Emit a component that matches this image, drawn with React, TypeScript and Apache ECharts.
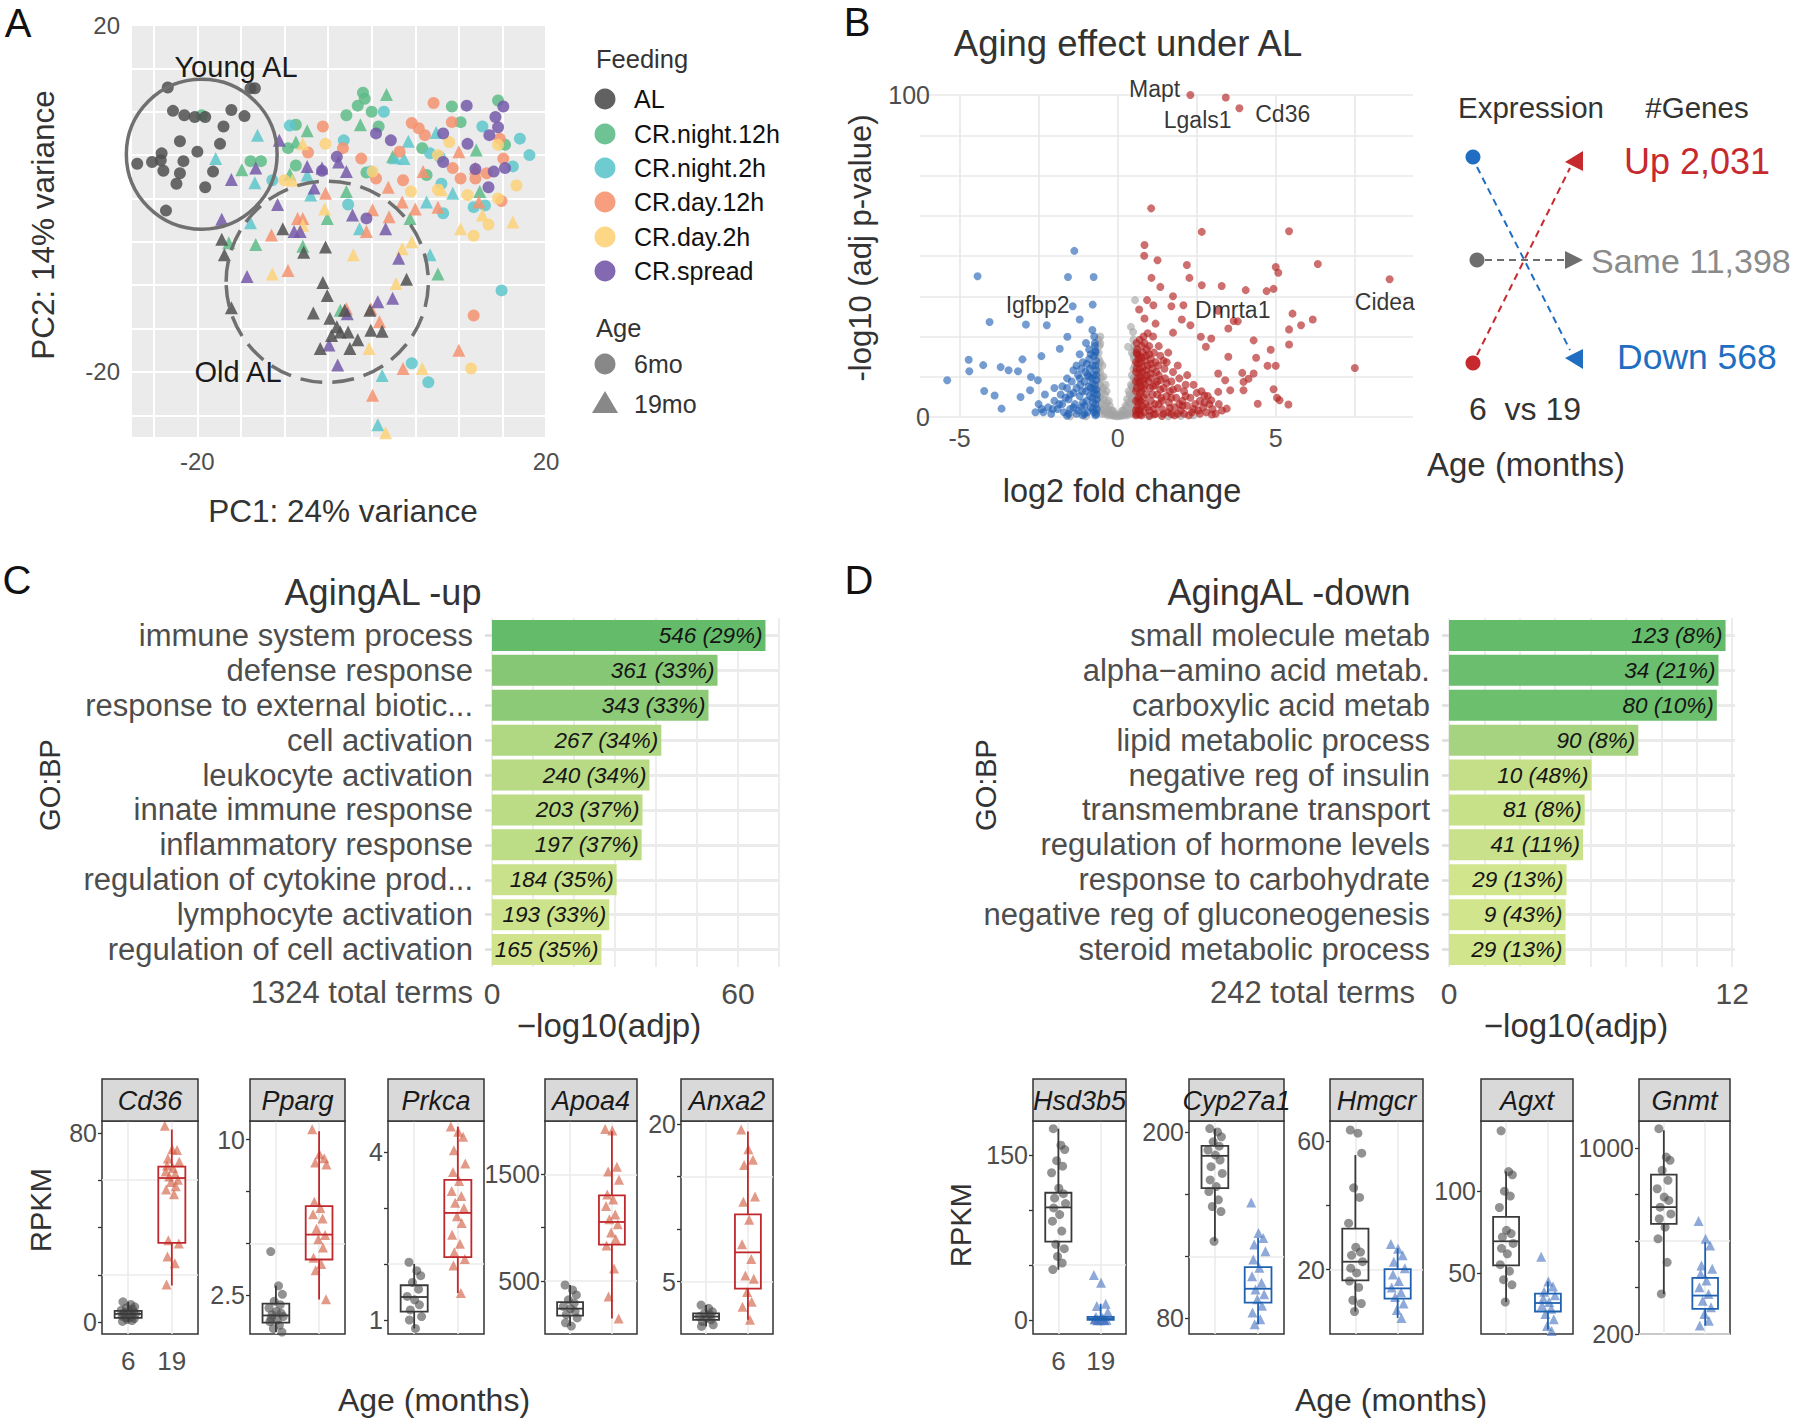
import React, { useEffect, useRef } from "react";
import * as echarts from "echarts";

const FONT = "'Liberation Sans', Arial, Helvetica, sans-serif";
const TXT = "#333333";
const AX = "#4D4D4D";
const CLEAR = "rgba(0,0,0,0)";

// ---------------- Panel A: PCA ----------------
const feedingGroups = ["AL", "CR.night.12h", "CR.night.2h", "CR.day.12h", "CR.day.2h", "CR.spread"];
const ageGroups = ["6mo", "19mo"];
const pcaAL6 = [[-23.4,12.8],[-13.9,12.7],[-13.4,12.7],[-22.8,10.1],[-21.5,9.6],[-20.3,9.4],[-19.1,9.4],[-16.1,10.2],[-14.6,9.5],[-17.0,8.3],[-22.0,6.6],[-17.4,6.3],[-20.0,5.4],[-24.1,5.2],[-26.9,4.0],[-25.2,4.2],[-24.2,4.4],[-21.6,4.3],[-23.9,3.2],[-22.0,2.9],[-18.2,3.1],[-22.4,1.7],[-19.1,1.3],[-23.6,-1.4]];
const pcaAL19 = [[-10.2,-3.5],[-17.2,-4.7],[-16.9,-6.5],[-7.8,-6.2],[-5.3,-5.6],[-16.1,-12.6],[-5.6,-9.7],[-5.1,-11.2],[-6.7,-13.2],[-4.8,-13.8],[-3.1,-12.9],[-4.0,-14.8],[-3.6,-15.4],[-2.7,-15.4],[-4.6,-15.8],[-1.6,-16.3],[-2.5,-17.3],[-5.9,-17.3],[-0.1,-15.2],[1.2,-15.3],[4.0,-9.3],[-0.2,-12.9]];
const pcaNight12h6 = [[-1.0,12.2],[-0.8,11.5],[-1.6,10.7],[-2.9,9.6],[0.0,10.0],[-8.7,8.5],[0.8,8.3],[9.2,10.6],[10.2,8.8],[14.5,11.3],[5.8,5.8],[-12.7,4.3],[-13.9,4.3],[-8.7,3.8],[-0.6,3.0],[6.3,2.7],[15.3,6.2],[-19.5,9.6],[-9.6,5.8]];
const pcaNight12h19 = [[1.7,12.0],[-1.3,8.5],[-7.4,7.8],[-8.7,6.5],[2.4,4.8],[-14.9,3.3],[-9.4,2.8],[-2.9,0.8],[-5.1,-2.3],[-13.3,-5.3],[-7.9,-5.5],[7.6,-8.7],[4.4,-2.3],[12.4,0.8],[-16.4,-5.1],[12.0,5.6],[-3.6,-12.9]];
const pcaNight2h6 = [[1.4,10.0],[-9.4,8.4],[-3.2,6.7],[-11.4,2.1],[6.7,5.2],[7.8,4.8],[12.7,8.3],[17.0,6.9],[18.1,5.0],[16.2,3.7],[8.0,1.7],[-2.7,-0.7],[8.2,-1.7],[11.7,-1.0],[13.0,-0.8],[14.9,-10.6],[4.6,-19.0],[6.5,-21.2],[-0.1,3.1]];
const pcaNight2h19 = [[-13.1,7.3],[-17.9,4.6],[-13.4,1.8],[4.2,6.6],[7.4,7.6],[-7.0,0.4],[2.7,4.7],[3.7,4.6],[-13.9,-2.8],[-1.4,-3.5],[6.7,-6.5],[1.2,-20.4],[0.7,-26.1],[9.3,0.6],[6.3,-0.4],[-7.4,2.7]];
const pcaDay12h6 = [[-5.6,8.3],[7.1,11.0],[4.6,8.7],[5.4,8.1],[6.1,7.3],[9.2,8.8],[-1.2,4.6],[3.2,5.4],[3.6,2.1],[14.7,6.9],[15.1,4.6],[10.2,2.3],[11.9,2.3],[14.9,-0.3],[11.7,-13.5],[0.5,2.3],[-3.3,5.8],[-7.3,5.3],[13.2,2.9],[9.3,3.5]];
const pcaDay12h19 = [[-7.9,-2.3],[-8.5,-2.3],[-11.5,-4.2],[-9.6,-8.3],[-0.6,-3.8],[-5.3,0.6],[0.1,-1.3],[1.9,1.3],[2.0,-2.1],[3.5,-0.4],[5.0,-1.2],[5.9,3.1],[7.6,-1.0],[12.3,-0.4],[10.0,-17.5],[3.6,-19.6],[0.1,-22.7],[-2.9,-12.7],[-0.1,-12.7],[0.9,-14.2],[10.0,5.4],[11.9,3.5]];
const pcaDay2h6 = [[-5.3,6.3],[0.1,3.1],[4.5,0.8],[7.6,1.0],[8.9,6.5],[11.0,0.4],[11.7,-4.3],[13.4,-3.0],[14.5,6.2],[16.6,1.5],[11.4,-19.6],[7.6,5.0],[-10.0,2.1],[14.5,0.0]];
const pcaDay2h19 = [[-7.9,6.3],[-9.1,2.1],[-5.4,-1.2],[-2.1,-6.5],[-11.4,-8.7],[3.5,-5.8],[4.6,-5.0],[2.8,-9.8],[-0.3,-17.3],[5.8,-19.6],[1.6,-27.0],[10.2,-3.5],[16.2,-2.7],[12.7,-1.9],[8.0,1.0],[-7.9,-3.1]];
const pcaSpread6 = [[10.9,10.7],[15.1,10.6],[14.2,9.4],[14.5,8.2],[13.5,7.3],[0.5,7.5],[2.2,6.7],[8.2,7.5],[8.2,4.2],[11.0,6.3],[11.9,3.4],[14.0,3.1],[15.3,3.5],[13.4,1.3],[-0.6,-2.3],[-5.7,3.2],[-4.0,4.8]];
const pcaSpread19 = [[-10.6,6.7],[-13.3,3.5],[-16.1,2.2],[-17.2,-2.4],[-10.8,-0.7],[-2.2,-1.9],[-3.8,4.2],[-5.7,3.5],[-2.9,3.1],[-6.6,1.2],[-8.9,-3.8],[-8.2,-3.8],[-14.3,-9.0],[1.6,-3.5],[3.1,-6.9],[2.4,-11.5],[0.7,-11.9],[-2.8,-13.3],[-4.9,-16.9],[-3.9,-19.2],[-7.4,3.7]];
// ellipse annotations: centre x, centre y, radius, dashed
const pcaEllipses = [[-19.5, 5.1, 8.65, 0], [-5.1, -9.6, 11.6, 1]];
const pcaEllipseLabels = ["Young AL", "Old AL"];

// ---------------- Panel B: volcano ----------------
const volcanoUp = [[2.3,100],[3.42,99.2],[3.85,95.9],[1.06,64.8],[2.66,57.5],[5.42,57.7],[0.85,53.4],[0.84,50.1],[1.26,48.7],[2.19,47.2],[6.33,47.5],[5.0,46.6],[5.08,44.8],[1.07,43.2],[2.27,43.2],[1.35,40.4],[2.66,40.9],[3.29,40.7],[4.05,39.4],[4.71,39.1],[4.93,39.8],[8.6,42.8],[7.5,15.2],[5.53,32.1],[6.17,30.3],[5.8,28.5],[5.42,27.2],[4.3,23.8],[5.42,22.5],[4.84,20.9],[4.38,18.4],[4.74,15.9],[5.0,15.9],[3.94,13.7],[4.14,11.9],[4.3,13.5],[3.98,10.9],[3.98,8.3],[4.93,8.6],[5.04,6.0],[4.43,4.1],[5.4,3.9],[5.12,5.2],[3.45,2.6],[3.67,29.8],[3.8,29.7],[3.5,27.5],[3.18,33.0],[1.75,37.5],[2.08,34.7],[1.7,34.4],[0.93,36.3],[1.13,34.7],[0.68,33.4],[0.85,30.6],[2.03,30.3],[1.2,29.0],[2.3,28.5],[2.63,24.9],[1.75,26.2],[2.96,24.4],[2.79,21.8],[3.5,18.7],[3.18,13.5],[3.4,11.4],[3.56,8.3],[2.74,6.7],[2.96,5.2],[3.18,7.8],
[0.6,1],[0.62,3],[0.65,6],[0.6,9],[0.63,12],[0.6,15],[0.66,18],[0.62,21],[0.7,24],[0.68,2],[0.72,5],[0.75,8],[0.7,11],[0.78,14],[0.74,17],[0.8,20],[0.85,23],[0.82,1.5],[0.88,4],[0.9,7],[0.86,10],[0.92,13],[0.95,16],[0.9,19],[1.0,22],[1.0,2],[1.05,5],[1.02,9],[1.08,12],[1.1,15],[1.05,18],[1.15,20],[1.2,1],[1.18,4],[1.25,7],[1.2,10],[1.3,13],[1.28,16],[1.35,19],[1.4,2.5],[1.38,6],[1.45,9],[1.5,12],[1.48,15],[1.55,17],[1.6,1.5],[1.62,4.5],[1.65,8],[1.7,11],[1.75,14],[1.8,3],[1.85,6],[1.9,9],[1.95,12],[2.0,2],[2.05,5],[2.1,8],[2.15,10],[2.2,3.5],[2.3,6],[2.35,1.5],[2.45,4],[2.55,2],[2.6,5],[2.7,3],[2.8,1.5],[2.9,4],[3.0,2.5],[3.1,1],[1.12,25],[0.95,26],[1.3,22],[1.6,20],[1.9,16],[2.2,13],[2.4,10],[2.65,8],[2.85,6.5],[3.2,4],[0.58,0.5],[0.75,0.5],[1.0,0.4],[1.4,0.3],[1.8,0.5],[2.25,0.5],[0.65,4.5],[0.7,7.5],[0.68,13.5],[0.64,16.5],[0.8,11.5],[0.95,3],[1.1,7],[1.3,4],[1.45,1],[1.55,6.5],[1.75,8.5],[1.95,4],[2.1,1],[1.25,11],[0.9,14.5],[1.05,16.5],[0.62,19.5],[0.76,22],
[0.58,2],[0.58,5],[0.58,8],[0.58,11],[0.58,14],[0.58,17],[0.6,20],[0.6,23],[0.7,0.8],[0.72,2.5],[0.78,3.5],[0.68,5.5],[0.83,6],[0.74,9.5],[0.82,9],[0.66,10.5],[0.88,12],[0.72,12.5],[0.8,15.5],[0.7,15],[0.86,17.5],[0.76,18.5],[0.92,21],[0.68,19],[0.98,11],[1.15,2.5],[1.12,9.5],[1.35,8.5],[1.55,10.5],[1.65,2.8],[1.4,5],[1.9,1],[1.7,6],[2.4,2.5],[2.15,6.5],[2.5,7.5],[1.22,14],[1.45,17.5],[1.0,19.5],[0.82,25],[1.05,13.5],[1.2,17],[1.35,11.5],[1.15,0.8],[1.7,0.9],[2.05,3.5],[2.6,1],[2.75,4.5],[2.98,0.8],[3.3,2]];
const volcanoDown = [[-1.37,51.6],[-4.43,43.7],[-1.57,43.5],[-0.76,43.5],[-0.79,34.9],[-1.42,34.4],[-4.05,29.5],[-2.9,28.7],[-2.24,28.5],[-1.2,30.3],[-1.59,24.9],[-1.83,21.2],[-4.71,17.8],[-4.69,14.2],[-4.25,16.1],[-3.7,15.5],[-3.45,14.5],[-3.15,14.2],[-3.01,17.9],[-5.39,11.4],[-4.22,8.1],[-3.89,6.7],[-3.67,2.6],[-2.77,8.3],[-3.07,6.2],[-2.41,18.9],[-2.74,12.4],[-2.52,11.4],
[-0.68,1],[-0.7,4],[-0.66,7],[-0.72,10],[-0.68,13],[-0.7,16],[-0.75,19],[-0.72,22],[-0.78,2.5],[-0.8,6],[-0.85,9],[-0.82,12],[-0.88,15],[-0.9,18],[-0.95,1.5],[-0.98,5],[-1.0,8],[-1.05,11],[-1.02,14],[-1.1,17],[-1.15,3],[-1.2,6.5],[-1.18,10],[-1.25,13],[-1.3,1],[-1.35,4],[-1.4,7.5],[-1.45,11],[-1.5,2.5],[-1.55,5.5],[-1.6,9],[-1.7,1.5],[-1.75,4],[-1.8,7],[-1.9,2.5],[-2.0,5],[-2.1,1],[-2.2,3],[-2.35,1.5],[-2.5,4],[-0.74,25],[-0.9,21],[-1.0,23],[-1.3,16],[-1.6,12],[-2.0,9],[-2.3,7],[-0.7,0.5],[-1.1,0.5],[-1.6,0.4],[-0.8,27],[-1.2,19.5],[-1.4,14.5],[-0.75,8.5],[-0.9,12.5],[-1.05,3.5],[-1.3,9],[-0.7,20.5],
[-0.66,2.5],[-0.66,5.5],[-0.67,8.5],[-0.67,11.5],[-0.68,14.5],[-0.68,17.5],[-0.7,20],[-0.72,23],[-0.75,1.5],[-0.78,4.5],[-0.76,7.5],[-0.8,10.5],[-0.78,13],[-0.8,16],[-0.85,3],[-0.88,6.5],[-0.92,9.5],[-0.95,13],[-0.98,16.5],[-1.05,1],[-1.1,4.5],[-1.12,8],[-1.2,12],[-1.25,2],[-1.4,3],[-1.55,1],[-1.65,6],[-1.85,4],[-2.05,2.5],[-2.4,2.5],[-2.6,1.5],[-0.85,19.5],[-1.15,15],[-1.5,7],[-1.75,9.5]];
const volcanoNS = [[-0.6,2],[-0.6,6],[-0.6,10],[-0.62,14],[-0.6,18],[-0.58,22],[-0.5,1],[-0.5,4],[-0.5,8],[-0.52,12],[-0.48,16],[-0.4,1],[-0.4,3.5],[-0.4,7],[-0.38,10],[-0.3,0.5],[-0.3,2.5],[-0.28,5],[-0.2,0.5],[-0.2,2],[-0.1,0.3],[-0.1,1.2],[0,0.2],[0.1,0.3],[0.1,1.2],[0.2,0.5],[0.2,2],[0.3,0.5],[0.28,3],[0.3,5.5],[0.38,1],[0.4,4],[0.38,7],[0.42,10],[0.45,13],[0.5,1],[0.5,5],[0.48,9],[0.5,15],[0.52,18],[0.45,20],[-0.55,25],[0.55,21],[0.5,24],[0.55,36.3],[0.42,28],[0.49,26.4],[0.33,21.8],[-0.55,22.8],[2.4,0.5],[1.0,0.2],[-1.0,0.2],[1.6,0.2],[-1.5,0.2],[2.0,0.3],[-0.55,17],[0.53,12],
[-0.62,4],[-0.62,8],[-0.62,12],[-0.6,16],[-0.6,20],[-0.55,2.5],[-0.55,6],[-0.55,10],[-0.55,14],[-0.45,2],[-0.45,5.5],[-0.45,9],[-0.45,12.5],[-0.35,1.5],[-0.35,4.5],[-0.35,8],[-0.25,1],[-0.25,3.5],[-0.15,0.6],[-0.15,2],[-0.05,0.5],[0.05,0.5],[0.15,0.6],[0.15,2],[0.25,1],[0.25,3.5],[0.35,1.5],[0.35,4.5],[0.35,8],[0.45,2],[0.45,6],[0.45,9.5],[0.5,12],[0.52,3],[0.52,7],[0.55,10],[0.55,16],[0.5,19],[-0.6,24],[0.52,22]];
const volcanoGeneLabels = ["Mapt", "Lgals1", "Cd36", "Igfbp2", "Dmrta1", "Cidea"];
const volcanoGeneLabelPos = [[1.17,101.9],[2.53,92.2],[5.22,94.1],[-2.53,34.8],[3.64,33.2],[8.45,35.7]];
const exprDirections = ["Up", "Same", "Down"];
const exprCounts = ["2,031", "11,398", "568"];

// ---------------- Panel C / D: GO enrichment ----------------
const goUpTerms = ["immune system process","defense response","response to external biotic...","cell activation","leukocyte activation","innate immune response","inflammatory response","regulation of cytokine prod...","lymphocyte activation","regulation of cell activation"];
const goUpValues = [66.7, 55.0, 52.8, 41.3, 38.4, 36.7, 36.5, 30.4, 28.6, 26.7];
const goUpLabels = ["546 (29%)","361 (33%)","343 (33%)","267 (34%)","240 (34%)","203 (37%)","197 (37%)","184 (35%)","193 (33%)","165 (35%)"];
const goUpTotal = 1324;
const goDownTerms = ["small molecule metab","alpha\u2212amino acid metab.","carboxylic acid metab","lipid metabolic process","negative reg of insulin","transmembrane transport","regulation of hormone levels","response to carbohydrate","negative reg of gluconeogenesis","steroid metabolic process"];
const goDownValues = [11.72, 11.42, 11.35, 8.02, 6.04, 5.75, 5.68, 4.98, 4.94, 4.94];
const goDownLabels = ["123 (8%)","34 (21%)","80 (10%)","90 (8%)","10 (48%)","81 (8%)","41 (11%)","29 (13%)","9 (43%)","29 (13%)"];
const goDownTotal = 242;

// ---------------- Bottom: RPKM boxplots ----------------
const ageTicks = ["6", "19"];
const JITTER = [-0.12,0.06,0.15,-0.04,0.1,-0.16,0.01,0.12,-0.09,0.17,-0.11,0.03,-0.14,0.08,-0.06,0.14,-0.02,0.09,-0.13,0.05,-0.08,0.16,-0.1,0.07];
// box stats: [min, q1, median, q3, max]
const cd36Box6 = [0, 1.8, 3.5, 4.8, 8.6];
const cd36Pts6 = [8.6,7.5,6.5,6.0,5.5,5.0,4.6,4.2,3.9,3.6,3.3,3.0,2.6,2.2,1.9,1.5,1.1,0.7,0.3];
const cd36Box19 = [15.5, 33.5, 60.9, 65.7, 81.4];
const cd36Pts19 = [83.0,73.1,72.7,69.2,67.8,66.2,65.1,63.7,62.6,61.6,60.2,59.2,57.4,56.1,54.0,34.6,33.2,27.7,24.9,15.9];
const ppargBox6 = [0.72, 1.17, 1.52, 2.09, 2.95];
const ppargPts6 = [4.6,2.95,2.54,2.2,2.04,1.88,1.71,1.63,1.55,1.47,1.38,1.3,1.22,1.05,0.89,0.72];
const ppargBox19 = [2.29, 4.22, 5.42, 6.79, 10.4];
const ppargPts19 = [10.5,9.3,9.1,8.9,8.8,7.0,6.7,6.4,6.2,5.7,5.4,5.2,4.8,4.3,4.0,3.7,2.3];
const prkcaBox6 = [0.85, 1.15, 1.41, 1.62, 2.0];
const prkcaPts6 = [2.03,1.88,1.79,1.67,1.55,1.42,1.36,1.27,1.18,1.06,1.0,0.85];
const prkcaBox19 = [1.48, 2.12, 2.91, 3.5, 4.45];
const prkcaPts19 = [4.45,4.36,4.27,4.03,3.79,3.64,3.48,3.3,3.21,3.09,3.0,2.85,2.73,2.52,2.36,2.21,2.09,1.97,1.48];
const apoa4Box6 = [74, 173, 238, 300, 460];
const apoa4Pts6 = [460,414,367,321,290,259,238,213,182,151,105,74];
const apoa4Box19 = [145, 840, 1052, 1302, 1904];
const apoa4Pts19 = [1926,1910,1571,1525,1448,1309,1262,1201,1123,1077,1031,954,892,830,614,352,145];
const anxa2Box6 = [0.72, 1.35, 1.66, 1.97, 2.76];
const anxa2Pts6 = [2.76,2.45,2.13,1.97,1.82,1.66,1.5,1.35,1.19,0.88,0.72];
const anxa2Box19 = [1.35, 4.33, 7.78, 11.4, 19.3];
const anxa2Pts19 = [19.5,17.6,16.6,16.1,13.1,12.6,10.9,8.56,7.15,5.58,5.27,4.0,3.07,2.6,1.35];
const hsd3b5Box6 = [45.9, 71.5, 102.5, 115.8, 174];
const hsd3b5Pts6 = [174,159,155,145,140,134,120,115,111,106,102,96,90,81,69,65,58,52,46];
const hsd3b5Box19 = [0, 0.3, 1.5, 3, 15];
const hsd3b5Pts19 = [41,34,15,13,7.4,3,1.5,1,0.5,0.3,0.2,0,0,0.8,2,0.1];
const cyp27a1Box6 = [129.6, 163.8, 184.6, 191, 202];
const cyp27a1Pts6 = [202.1,200,196.8,193.6,190.8,188.3,185.1,181.9,177.6,173.3,169.1,164.8,161.6,156.3,152.0,148.8,129.6];
const cyp27a1Box19 = [76.3, 90.2, 99.1, 113, 131.8];
const cyp27a1Pts19 = [154.6,135,131.8,127.5,123.2,117.9,112.6,107.2,103,98.7,95.5,92.3,88.1,83.8,79.5,76.3];
const hmgcrBox6 = [7, 16.7, 22.5, 32.8, 55.7];
const hmgcrPts6 = [63.5,62.5,56.3,45.5,42.5,34.5,27,25.5,24.5,22.5,20.5,19,16.5,14.5,10.5,9.5,7];
const hmgcrBox19 = [5, 11, 14.2, 20.2, 26.7];
const hmgcrPts19 = [28,26.5,24.5,22.5,20.5,18.5,16.5,14.5,13,11.5,9.5,7.5,5];
const agxtBox6 = [32.1, 54.6, 69.3, 84.2, 112];
const agxtPts6 = [137,112,110,100,97,90,76,74,72,68,65,61.6,55,51,45.8,42.6,32.1];
const agxtBox19 = [15.3, 26.3, 31.5, 37.2, 44.7];
const agxtPts19 = [59.9,44.7,41.6,38.4,36.3,34.2,32.1,30,27.9,24.8,21.6,17.4,14.3];
const gnmtBox6 = [372, 673, 745, 885, 1075];
const gnmtPts6 = [1082,960,946,903,860,824,788,774,745,716,695,659,609,508,372];
const gnmtBox19 = [236, 308, 365, 441, 594];
const gnmtPts19 = [685,609,580,494,480,458,430,401,372,343,315,286,257,236];

const boxPanels = [
  { gene: "Cd36", b6: cd36Box6, p6: cd36Pts6, b19: cd36Box19, p19: cd36Pts19, min: -5, max: 85, grid: 10, ticks: [0,20,40,60,80], labels: [0,80], side: 0 },
  { gene: "Pparg", b6: ppargBox6, p6: ppargPts6, b19: ppargBox19, p19: ppargPts19, min: 0.625, max: 10.9, grid: 1.25, ticks: [2.5,5,7.5,10], labels: [2.5,10], side: 0 },
  { gene: "Prkca", b6: prkcaBox6, p6: prkcaPts6, b19: prkcaBox19, p19: prkcaPts19, min: 0.75, max: 4.55, grid: 0.5, ticks: [1,2,3,4], labels: [1,4], side: 0 },
  { gene: "Apoa4", b6: apoa4Box6, p6: apoa4Pts6, b19: apoa4Box19, p19: apoa4Pts19, min: 0, max: 2000, grid: 250, ticks: [500,1000,1500], labels: [500,1500], side: 0 },
  { gene: "Anxa2", b6: anxa2Box6, p6: anxa2Pts6, b19: anxa2Box19, p19: anxa2Pts19, min: 0, max: 20.3, grid: 2.5, ticks: [5,10,15,20], labels: [5,20], side: 0 },
  { gene: "Hsd3b5", b6: hsd3b5Box6, p6: hsd3b5Pts6, b19: hsd3b5Box19, p19: hsd3b5Pts19, min: -12.5, max: 181, grid: 25, ticks: [0,50,100,150], labels: [0,150], side: 1 },
  { gene: "Cyp27a1", b6: cyp27a1Box6, p6: cyp27a1Pts6, b19: cyp27a1Box19, p19: cyp27a1Pts19, min: 70, max: 207, grid: 20, ticks: [80,120,160,200], labels: [80,200], side: 1 },
  { gene: "Hmgcr", b6: hmgcrBox6, p6: hmgcrPts6, b19: hmgcrBox19, p19: hmgcrPts19, min: 0, max: 66.3, grid: 10, ticks: [20,40,60], labels: [20,60], side: 1 },
  { gene: "Agxt", b6: agxtBox6, p6: agxtPts6, b19: agxtBox19, p19: agxtPts19, min: 12.5, max: 143, grid: 25, ticks: [50,100], labels: [50,100], side: 1 },
  { gene: "Gnmt", b6: gnmtBox6, p6: gnmtPts6, b19: gnmtBox19, p19: gnmtPts19, min: 200, max: 1115, grid: 100, ticks: [200,400,600,800,1000], labels: [200,1000], side: 1 },
];

// ---------------- styles / layout ----------------
const feedingColors = ["#505050", "#5DBC87", "#5EC7CB", "#F59370", "#FDD279", "#7459A9"];
const boxLeftX = [[102,198],[250,345],[388,484],[545,637],[681,773],[1033,1126],[1189,1284],[1330,1423],[1481,1573],[1639,1730]];
const goFill = ["#D2E58D", "#B5D983", "#8BC977", "#63BC6B"];

function stripes(min: number, step: number, gridStep: number, color: string) {
  const n = Math.round(gridStep / step);
  const k0 = Math.round(min / step);
  const arr: string[] = [];
  for (let i = 0; i < n; i++) arr.push((((k0 + i) % n) + n) % n === 0 ? color : CLEAR);
  return arr;
}
function only(vals: number[], fmt?: (v: number) => string) {
  return (v: number) => {
    const m = vals.find((t) => Math.abs(t - v) < 1e-6);
    return m === undefined ? "" : fmt ? fmt(m) : String(m);
  };
}
function aligned(max: number, min: number, step: number) {
  const r = (max - min) / step;
  return Math.abs(r - Math.round(r)) < 1e-6;
}
function txt(text: string, x: number, y: number, o: any = {}) {
  const align = o.align || "center";
  return {
    type: "text", x, y, z: 60, rotation: o.rot || 0,
    style: {
      text, fontSize: o.size || 24, fontFamily: FONT, fontStyle: o.italic ? "italic" : "normal",
      fontWeight: o.weight || "normal", fill: o.color || TXT,
      textAlign: align, align, textVerticalAlign: "middle", verticalAlign: "middle",
    },
  };
}

function buildOption() {
  const grid: any[] = [];
  const xAxis: any[] = [];
  const yAxis: any[] = [];
  const series: any[] = [];
  const graphic: any[] = [];

  // ===== Panel A =====
  grid.push({ left: 132, top: 25, width: 414, height: 412, show: true, backgroundColor: "#EBEBEB", borderWidth: 0 });
  const axA = (extra: any) => ({
    type: "value", gridIndex: 0, min: -27.5, max: 20, interval: 2.5,
    axisLine: { show: false }, axisTick: { show: false },
    axisLabel: { formatter: only([-20, 20]), fontSize: 24, color: AX, fontFamily: FONT, margin: 12 },
    splitLine: { show: true, lineStyle: { color: stripes(-27.5, 2.5, 5, "#FFFFFF"), width: 2 } },
    ...extra,
  });
  xAxis.push(axA({}));
  yAxis.push(axA({}));
  const pcaTable: any = {
    "AL": [pcaAL6, pcaAL19],
    "CR.night.12h": [pcaNight12h6, pcaNight12h19],
    "CR.night.2h": [pcaNight2h6, pcaNight2h19],
    "CR.day.12h": [pcaDay12h6, pcaDay12h19],
    "CR.day.2h": [pcaDay2h6, pcaDay2h19],
    "CR.spread": [pcaSpread6, pcaSpread19],
  };
  const order = [1, 2, 3, 4, 5, 0];
  order.forEach((gi) => {
    const g = feedingGroups[gi];
    ageGroups.forEach((a, ai) => {
      series.push({
        type: "scatter", name: g + " " + a, xAxisIndex: 0, yAxisIndex: 0,
        symbol: ai === 0 ? "circle" : "triangle", symbolSize: ai === 0 ? 12 : 13,
        itemStyle: { color: feedingColors[gi], opacity: 0.85 },
        data: pcaTable[g][ai], z: 3,
      });
    });
  });
  series.push({
    type: "custom", xAxisIndex: 0, yAxisIndex: 0, z: 5, clip: false,
    data: pcaEllipses,
    renderItem: (params: any, api: any) => {
      const c = api.coord([api.value(0), api.value(1)]);
      const s = api.size([api.value(2), api.value(2)]);
      return {
        type: "ellipse",
        shape: { cx: c[0], cy: c[1], rx: s[0], ry: s[1] },
        style: { fill: "none", stroke: "#707070", lineWidth: 3.5, lineDash: api.value(3) ? [22, 10] : null },
      };
    },
  });
  graphic.push(txt(pcaEllipseLabels[0], 236, 67, { size: 29, color: "#1A1A1A" }));
  graphic.push(txt(pcaEllipseLabels[1], 238, 372, { size: 29, color: "#1A1A1A" }));
  graphic.push(txt("PC2: 14% variance", 43, 225, { size: 31.5, rot: Math.PI / 2 }));
  graphic.push(txt("PC1: 24% variance", 343, 511, { size: 31.5 }));
  graphic.push(txt("A", 18, 23, { size: 40, color: "#111" }));
  // legend
  graphic.push(txt("Feeding", 596, 59, { size: 25.5, align: "left" }));
  const legY = [99, 134, 168, 202, 237, 271];
  feedingGroups.forEach((g, i) => {
    graphic.push({ type: "circle", z: 60, shape: { cx: 605, cy: legY[i], r: 10.5 }, style: { fill: feedingColors[i], opacity: 0.9 } });
    graphic.push(txt(g, 634, legY[i], { size: 25, align: "left", color: "#111" }));
  });
  graphic.push(txt("Age", 596, 328, { size: 25.5, align: "left" }));
  graphic.push({ type: "circle", z: 60, shape: { cx: 605, cy: 364, r: 10.5 }, style: { fill: "#888888" } });
  graphic.push(txt(ageGroups[0], 634, 364, { size: 25, align: "left" }));
  graphic.push({ type: "polygon", z: 60, shape: { points: [[605, 391], [592, 413], [618, 413]] }, style: { fill: "#888888" } });
  graphic.push(txt(ageGroups[1], 634, 404, { size: 25, align: "left" }));

  // ===== Panel B =====
  grid.push({ left: 920, top: 95, width: 493, height: 322, show: false });
  xAxis.push({
    type: "value", gridIndex: 1, min: -6.25, max: 9.34, interval: 1.25,
    axisLine: { show: false }, axisTick: { show: false },
    axisLabel: { formatter: only([-5, 0, 5]), fontSize: 25, color: AX, fontFamily: FONT, margin: 8 },
    splitLine: { show: true, showMaxLine: false, lineStyle: { color: stripes(-6.25, 1.25, 2.5, "#E8E8E8"), width: 1.6 } },
  });
  yAxis.push({
    type: "value", gridIndex: 1, min: 0, max: 100, interval: 12.5,
    axisLine: { show: false }, axisTick: { show: false },
    axisLabel: { formatter: only([0, 100]), fontSize: 25, color: AX, fontFamily: FONT, margin: -10 },
    splitLine: { show: true, lineStyle: { color: "#E8E8E8", width: 1.6 } },
  });
  const vol = (data: any, color: string, op: number) => ({
    type: "scatter", xAxisIndex: 1, yAxisIndex: 1, symbolSize: 8, clip: false,
    itemStyle: { color, opacity: op }, data, z: 3,
  });
  series.push(vol(volcanoNS, "#A3A3A3", 0.62));
  series.push(vol(volcanoDown, "#1E5FB3", 0.62));
  series.push(vol(volcanoUp, "#B31E1E", 0.64));
  series.push({
    type: "scatter", xAxisIndex: 1, yAxisIndex: 1, symbolSize: 0, clip: false, z: 6,
    data: volcanoGeneLabels.map((g, i) => ({ name: g, value: volcanoGeneLabelPos[i] })),
    label: { show: true, position: "inside", formatter: "{b}", fontSize: 23, color: "#000", fontFamily: FONT },
  });
  graphic.push(txt("B", 857, 22, { size: 40, color: "#111" }));
  graphic.push(txt("Aging effect under AL", 1128, 43, { size: 36.5 }));
  graphic.push(txt("-log10 (adj p-value)", 860, 248, { size: 31, rot: Math.PI / 2 }));
  graphic.push(txt("log2 fold change", 1122, 491, { size: 32.5 }));
  // schematic
  const red = "#C62A2E", blue = "#1F6EC1", grey = "#6E6E6E";
  graphic.push(txt("Expression", 1531, 107, { size: 29.5 }));
  graphic.push(txt("#Genes", 1697, 107, { size: 29.5 }));
  const dash = (x1: number, y1: number, x2: number, y2: number, c: string) => ({ type: "line", z: 55, shape: { x1, y1, x2, y2 }, style: { stroke: c, lineWidth: 2, lineDash: [7, 5] } });
  graphic.push(dash(1477, 167, 1570, 350, blue));
  graphic.push(dash(1477, 355, 1570, 168, red));
  graphic.push(dash(1485, 260, 1565, 260, grey));
  graphic.push({ type: "circle", z: 56, shape: { cx: 1473, cy: 157, r: 7.5 }, style: { fill: blue } });
  graphic.push({ type: "circle", z: 56, shape: { cx: 1477, cy: 260, r: 7.5 }, style: { fill: grey } });
  graphic.push({ type: "circle", z: 56, shape: { cx: 1473, cy: 363, r: 7.5 }, style: { fill: red } });
  graphic.push({ type: "polygon", z: 56, shape: { points: [[1583, 151], [1565, 162], [1583, 171]] }, style: { fill: red } });
  graphic.push({ type: "polygon", z: 56, shape: { points: [[1583, 369], [1565, 358], [1583, 349]] }, style: { fill: blue } });
  graphic.push({ type: "polygon", z: 56, shape: { points: [[1583, 260], [1565, 251], [1565, 269]] }, style: { fill: grey } });
  graphic.push(txt(exprDirections[0] + " " + exprCounts[0], 1624, 161, { size: 36, align: "left", color: red }));
  graphic.push(txt(exprDirections[1] + " " + exprCounts[1], 1591, 261, { size: 34, align: "left", color: "#8A8A8A" }));
  graphic.push(txt(exprDirections[2] + " " + exprCounts[2], 1617, 357, { size: 35.5, align: "left", color: blue }));
  graphic.push(txt(ageTicks[0] + "  vs " + ageTicks[1], 1469, 409, { size: 32, align: "left" }));
  graphic.push(txt("Age (months)", 1427, 464, { size: 33, align: "left" }));

  // ===== Panels C and D =====
  const goPanel = (gi: number, left: number, width: number, max: number, step: number, labelVals: number[], terms: string[], vals: number[], labels: string[], lo: number, hi: number, showMax: boolean) => {
    grid.push({ left, top: 618, width, height: 349, show: false });
    const xi = xAxis.length;
    xAxis.push({
      type: "value", gridIndex: gi, min: 0, max, interval: step,
      axisLine: { show: false }, axisTick: { show: false },
      axisLabel: { formatter: only(labelVals), fontSize: 30, color: AX, fontFamily: FONT, margin: 11 },
      splitLine: { show: true, showMaxLine: showMax, lineStyle: { color: "#EBEBEB", width: 1.8 } },
    });
    const yi = yAxis.length;
    yAxis.push({
      type: "category", gridIndex: gi, data: terms, inverse: true,
      axisLine: { show: false },
      axisTick: { show: true, alignWithLabel: true, length: 7, lineStyle: { color: "#DDDDDD", width: 2.5 } },
      axisLabel: { interval: 0, fontSize: 31, color: AX, fontFamily: FONT, margin: 19 },
      splitLine: { show: false },
    });
    yAxis.push({
      type: "value", gridIndex: gi, min: -0.5, max: 9.5, interval: 0.5, inverse: true,
      axisLine: { show: false }, axisTick: { show: false }, axisLabel: { show: false },
      splitLine: { show: true, lineStyle: { color: stripes(-0.5, 0.5, 1, "#EBEBEB"), width: 3 } },
    });
    series.push({
      type: "bar", xAxisIndex: xi, yAxisIndex: yi, barWidth: 31, z: 3,
      data: vals.map((v) => ({ value: v, itemStyle: { color: echarts.color.lerp(Math.max(0, Math.min(1, (v - lo) / (hi - lo))), goFill) } })),
      label: {
        show: true, position: "insideRight", distance: 3, fontSize: 22.5, fontStyle: "italic", color: "#151515", fontFamily: FONT,
        formatter: (p: any) => labels[p.dataIndex],
      },
    });
  };
  goPanel(2, 492, 287, 70, 10, [0, 60], goUpTerms, goUpValues, goUpLabels, 26, 67, true);
  goPanel(3, 1449, 286, 12.12, 1.5, [0, 12], goDownTerms, goDownValues, goDownLabels, 4.9, 11.8, false);
  graphic.push(txt("C", 17, 580, { size: 40, color: "#111" }));
  graphic.push(txt("D", 859, 580, { size: 40, color: "#111" }));
  graphic.push(txt("AgingAL -up", 383, 592, { size: 36 }));
  graphic.push(txt("AgingAL -down", 1289, 592, { size: 36 }));
  graphic.push(txt("GO:BP", 50, 785, { size: 29, rot: Math.PI / 2 }));
  graphic.push(txt("GO:BP", 986, 785, { size: 29, rot: Math.PI / 2 }));
  graphic.push(txt(goUpTotal + " total terms", 473, 992, { size: 31, align: "right", color: AX }));
  graphic.push(txt(goDownTotal + " total terms", 1415, 992, { size: 31, align: "right", color: AX }));
  graphic.push(txt("\u2212log10(adjp)", 609, 1025, { size: 33 }));
  graphic.push(txt("\u2212log10(adjp)", 1576, 1025, { size: 33 }));

  // ===== Bottom boxplots =====
  boxPanels.forEach((bp, k) => {
    const gi = grid.length;
    const [x0, x1] = boxLeftX[k];
    grid.push({ left: x0, top: 1121, width: x1 - x0, height: 213, show: true, borderColor: "#333333", borderWidth: 1.5, backgroundColor: "#FFFFFF" });
    const first = k === 0 || k === 5;
    const xi = xAxis.length;
    xAxis.push({
      type: "value", gridIndex: gi, min: 0.4, max: 2.6, interval: 0.2,
      axisLine: { show: false }, axisTick: { show: false },
      axisLabel: { show: first, formatter: only([1, 2], (v) => ageTicks[v - 1]), fontSize: 26, color: AX, fontFamily: FONT, margin: 14 },
      splitLine: { show: true, lineStyle: { color: stripes(0.4, 0.2, 1, "#EBEBEB"), width: 1.6 } },
    });
    const step = bp.grid / 2;
    const yi = yAxis.length;
    yAxis.push({
      type: "value", gridIndex: gi, min: bp.min, max: bp.max, interval: step,
      axisLine: { show: false },
      axisTick: { show: true, customValues: bp.ticks, length: 4, lineStyle: { color: "#333333", width: 1.3 } },
      axisLabel: { formatter: only(bp.labels), fontSize: 25, color: AX, fontFamily: FONT, margin: 5 },
      splitLine: { show: true, showMaxLine: aligned(bp.max, bp.min, step), lineStyle: { color: stripes(bp.min, step, bp.grid, "#EBEBEB"), width: 1.6 } },
    });
    const c19 = bp.side === 0 ? "#C0282B" : "#1F62B0";
    const p19 = bp.side === 0 ? "#D25A3E" : "#4B76C2";
    series.push({
      type: "scatter", xAxisIndex: xi, yAxisIndex: yi, symbol: "circle", symbolSize: 9, z: 3,
      itemStyle: { color: "#4A4A4A", opacity: 0.6 },
      data: bp.p6.map((v: number, i: number) => [1 + JITTER[i % JITTER.length], v]),
    });
    series.push({
      type: "scatter", xAxisIndex: xi, yAxisIndex: yi, symbol: "triangle", symbolSize: 10, z: 3,
      itemStyle: { color: p19, opacity: 0.62 },
      data: bp.p19.map((v: number, i: number) => [2 + JITTER[(i + 5) % JITTER.length], v]),
    });
    series.push({
      type: "custom", xAxisIndex: xi, yAxisIndex: yi, z: 4,
      encode: { x: 0, y: [1, 2, 3, 4, 5] },
      data: [
        { value: [1, ...bp.b6], itemStyle: { color: "#3A3A3A" } },
        { value: [2, ...bp.b19], itemStyle: { color: c19 } },
      ],
      renderItem: (params: any, api: any) => {
        const x = api.value(0);
        const p = [1, 2, 3, 4, 5].map((i) => api.coord([x, api.value(i)]));
        const half = api.size([0.62, 0])[0] / 2;
        const cx = p[0][0];
        const color = api.visual("color");
        const st = { stroke: color, lineWidth: 1.8, fill: "none" };
        return {
          type: "group",
          children: [
            { type: "line", shape: { x1: cx, y1: p[0][1], x2: cx, y2: p[1][1] }, style: st },
            { type: "line", shape: { x1: cx, y1: p[3][1], x2: cx, y2: p[4][1] }, style: st },
            { type: "rect", shape: { x: cx - half, y: p[3][1], width: 2 * half, height: p[1][1] - p[3][1] }, style: st },
            { type: "line", shape: { x1: cx - half, y1: p[2][1], x2: cx + half, y2: p[2][1] }, style: st },
          ],
        };
      },
    });
    graphic.push({ type: "rect", z: 50, shape: { x: x0, y: 1079, width: x1 - x0, height: 42 }, style: { fill: "#D9D9D9", stroke: "#333333", lineWidth: 1.5 } });
    graphic.push(txt(bp.gene, (x0 + x1) / 2, 1101, { size: 27, italic: true, color: "#1A1A1A" }));
  });
  graphic.push(txt("RPKM", 41, 1210, { size: 29, rot: Math.PI / 2 }));
  graphic.push(txt("RPKM", 961, 1225, { size: 29, rot: Math.PI / 2 }));
  graphic.push(txt("Age (months)", 434, 1400, { size: 32 }));
  graphic.push(txt("Age (months)", 1391, 1400, { size: 32 }));

  return {
    animation: false,
    backgroundColor: "#FFFFFF",
    textStyle: { fontFamily: FONT },
    grid, xAxis, yAxis, series, graphic,
  };
}

export default function App() {
  const ref = useRef<HTMLDivElement>(null);
  useEffect(() => {
    document.body.style.margin = "0";
    const chart = echarts.init(ref.current as HTMLDivElement, undefined, { renderer: "svg", width: 1800, height: 1421 });
    chart.setOption(buildOption() as any);
    return () => chart.dispose();
  }, []);
  return <div ref={ref} style={{ width: 1800, height: 1421 }} />;
}
